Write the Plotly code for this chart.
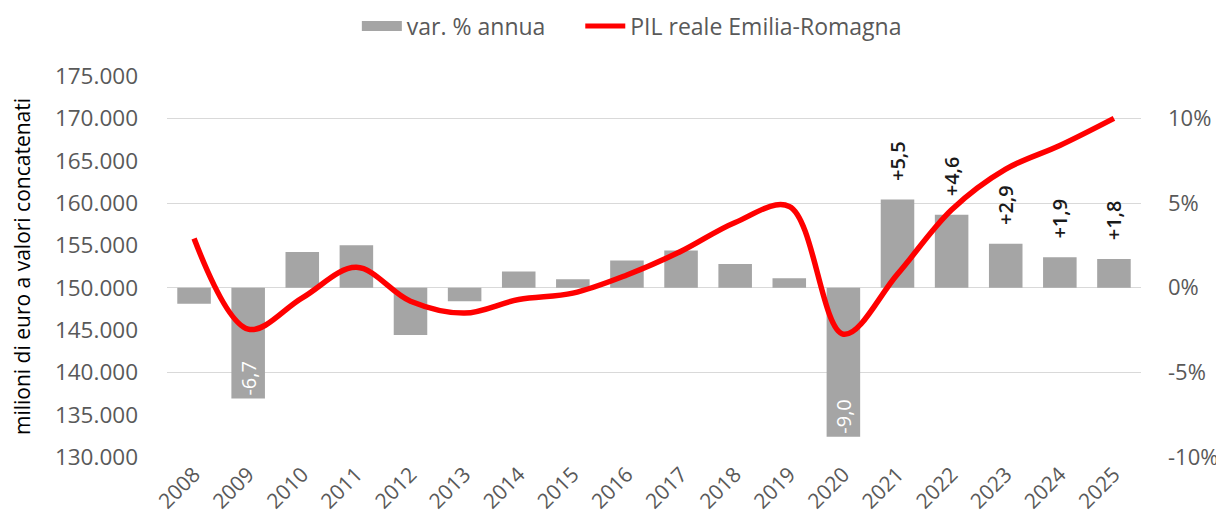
import plotly.graph_objects as go

years = [str(y) for y in range(2008, 2026)]
var_pct = [-0.95, -6.55, 2.1, 2.5, -2.8, -0.8, 0.95, 0.5, 1.6, 2.2, 1.4, 0.55, -8.8, 5.2, 4.3, 2.6, 1.8, 1.7]
bar_labels = ["", "-6,7", "", "", "", "", "", "", "", "", "", "", "-9,0", "+5,5", "+4,6", "+2,9", "+1,9", "+1,8"]
pil = [155800, 145100, 148800, 152400, 148400, 147000, 148600, 149350, 151500, 154300, 157700, 159600,
       144500, 151600, 159200, 164000, 166800, 170000]
right_ticks = [-10, -5, 0, 5, 10]
left_ticks = list(range(130000, 175001, 5000))

texts = []
positions = []
for lab, v in zip(bar_labels, var_pct):
    if lab:
        if v > 0:
            texts.append("\u00a0\u00a0\u00a0" + lab)
            positions.append("outside")
        else:
            texts.append(lab)
            positions.append("inside")
    else:
        texts.append("")
        positions.append("none")

font = "Open Sans"
grey = "#595959"
bar_color = "#A5A5A5"
line_color = "#FF0000"

fig = go.Figure()
fig.add_trace(go.Bar(
    x=years, y=var_pct, name="var. % annua", yaxis="y", showlegend=False,
    marker=dict(color=bar_color, line=dict(width=0)),
    text=texts, textposition=positions, textangle=-90,
    insidetextanchor="end", constraintext="none", cliponaxis=False,
    insidetextfont=dict(color="white", size=20, family=font),
    outsidetextfont=dict(color="#1A1A1A", size=20, family=font, weight=600),
    hoverinfo="skip",
))
fig.add_trace(go.Scatter(
    x=years, y=pil, name="PIL reale Emilia-Romagna", yaxis="y2", showlegend=False,
    mode="lines", line=dict(color=line_color, width=5.5, shape="spline", smoothing=1.0),
))
# legend entries
fig.add_trace(go.Scatter(x=[None], y=[None], name="var. % annua\u00a0\u00a0\u00a0\u00a0\u00a0",
                         mode="lines", line=dict(color=bar_color, width=15), yaxis="y"))
fig.add_trace(go.Scatter(x=[None], y=[None], name="PIL reale Emilia-Romagna", mode="lines",
                         line=dict(color=line_color, width=5), yaxis="y"))

fig.update_layout(
    width=1224, height=529,
    margin=dict(l=159, r=91, t=68, b=80),
    paper_bgcolor="white", plot_bgcolor="white",
    separators=",.",
    bargap=0.38,
    font=dict(family=font, color=grey, size=22),
    legend=dict(orientation="h", xref="container", yref="container",
                x=0.285, xanchor="left", y=0.966, yanchor="middle", itemwidth=40,
                font=dict(size=23, color=grey), traceorder="normal"),
    xaxis=dict(type="category", tickangle=-45, showgrid=False, showline=False, ticks="",
               automargin=False, tickfont=dict(size=21, color=grey)),
    yaxis=dict(side="right", range=[-10, 12.5], tickvals=right_ticks,
               ticktext=[f"{t}%" for t in right_ticks], automargin=False,
               showgrid=True, gridcolor="#D9D9D9", gridwidth=1, zeroline=False,
               showline=False, ticks="", ticklabelstandoff=26,
               tickfont=dict(size=22, color=grey)),
    yaxis2=dict(side="left", overlaying="y", range=[130000, 175000], tickvals=left_ticks,
                tickformat=",d", showgrid=False, zeroline=False, showline=False, ticks="",
                automargin=False, ticklabelstandoff=28,
                tickfont=dict(size=22.5, color=grey),
                title=dict(text="milioni di euro a valori concatenati",
                           font=dict(size=21, color="black"), standoff=28)),
)

fig.write_html("out.html")
